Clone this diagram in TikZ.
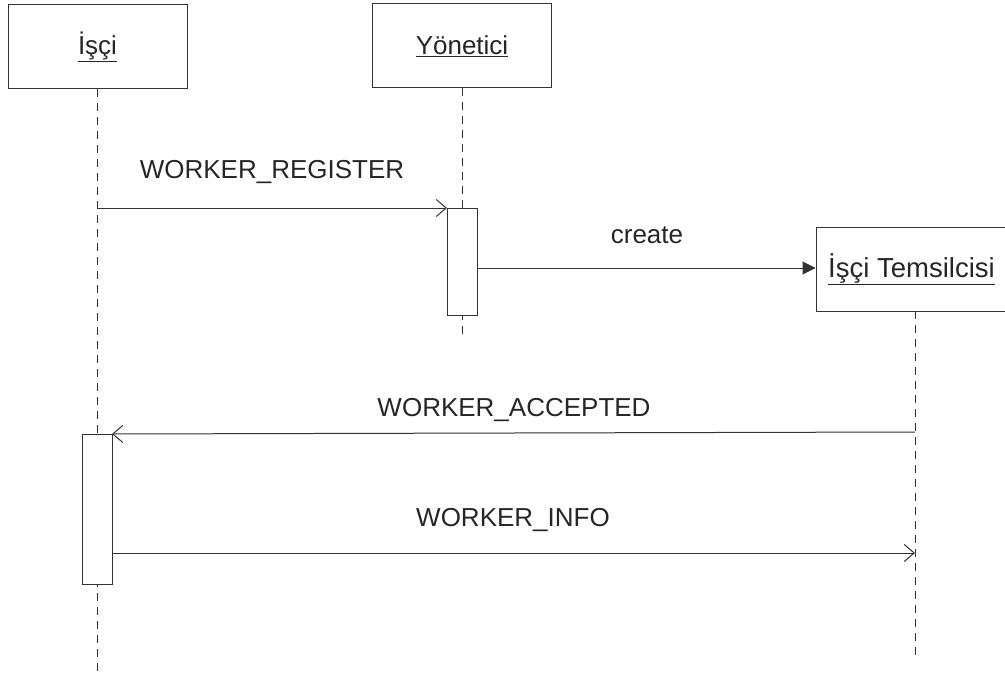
\documentclass[tikz,border=0pt]{standalone}
\usepackage{fontspec}
\setmainfont{Liberation Sans}
\usetikzlibrary{arrows.meta}
\begin{document}
\begin{tikzpicture}[x=1pt,y=-1pt,
  ln/.style={draw=black!80,line width=1pt},
  objbox/.style={ln,fill=white,minimum width=179pt,minimum height=84pt,inner sep=0pt},
  actbox/.style={ln,fill=white},
  life/.style={ln,dash pattern=on 8pt off 6pt},
  msg/.style={ln,-{Straight Barb[length=10pt,width=17pt,line width=1pt]}},
  createmsg/.style={ln,-{Triangle[length=13pt,width=13pt]}},
  lbl/.style={font=\fontsize{26}{30}\selectfont,text=black!85}]
\useasboundingbox (0,0) rectangle (1005,677);
% lifelines
\coordinate (l1top) at (97,89);
\coordinate (l1bot) at (97,677);
\coordinate (l2top) at (462,88);
\coordinate (l2bot) at (462,335);
\coordinate (l3top) at (915,311);
\coordinate (l3bot) at (915,660);
\draw[life] (l1top) -- (l1bot);
\draw[life] (l2top) -- (l2bot);
\draw[life] (l3top) -- (l3bot);
% objects
\node[objbox] (isci) at (97.5,47) {};
\node[lbl] (iscitxt) at (97.5,47) {\underline{İşçi}};
\node[objbox] (yon) at (462,46) {};
\node[lbl] (yontxt) at (462,46) {\underline{Yönetici}};
\node[objbox,minimum width=198pt] (tem) at (915,269) {};
\node[lbl,anchor=west,inner sep=0pt,font=\fontsize{27.5}{30}\selectfont] (temtxt) at (828,269) {\underline{İşçi Temsilcisi}};
% activations
\draw[actbox] (447,208) rectangle (477,315);
\coordinate (a2tl) at (447,208);
\coordinate (a2r) at (477,268);
\draw[actbox] (82,434) rectangle (112,584);
\coordinate (a1tr) at (112,434);
\coordinate (a1r) at (112,553);
% messages
\coordinate (m1s) at (97,208);
\draw[msg] (m1s) -- (a2tl);
\node[lbl] (m1l) at (272,172) {WORKER\_REGISTER};
\draw[createmsg] (a2r) -- (tem.west |- a2r);
\node[lbl] (m2l) at (647,235) {create};
\coordinate (m3s) at (915,432);
\draw[msg] (m3s) -- (a1tr);
\node[lbl] (m3l) at (514,410) {WORKER\_ACCEPTED};
\coordinate (m4e) at (915,553);
\draw[msg] (a1r) -- (m4e);
\node[lbl] (m4l) at (513,520) {WORKER\_INFO};
\end{tikzpicture}
\end{document}
